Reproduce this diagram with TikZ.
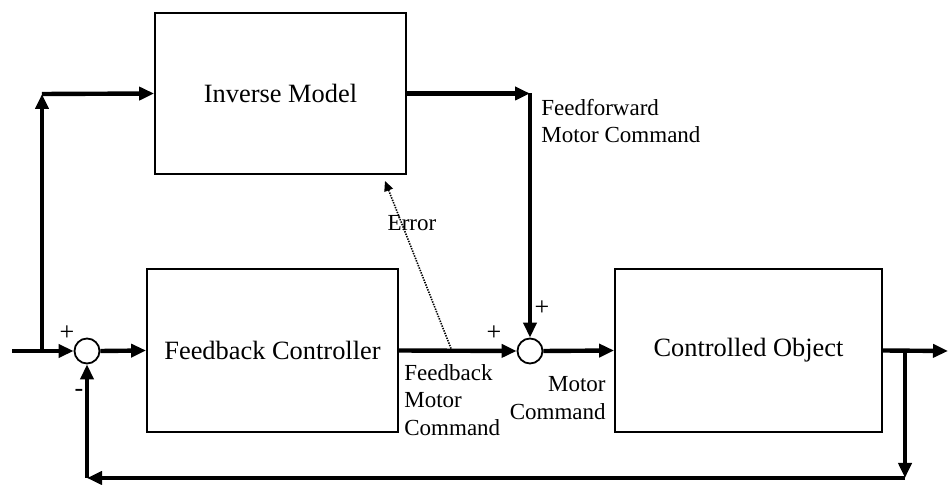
\documentclass[tikz,border=0pt]{standalone}
\usepackage{fontspec}
\setmainfont{Liberation Serif}
\usetikzlibrary{arrows.meta}

\begin{document}
\begin{tikzpicture}[x=0.5pt, y=-0.5pt,
    blk/.style={draw, line width=0.9pt, font=\fontsize{13.2}{16}\selectfont},
    sumc/.style={draw, circle, fill=white, line width=0.9pt, minimum size=12.5pt, inner sep=0pt},
    arr/.style={-{Triangle[length=7.5pt,width=6.5pt]}, line width=2.2pt},
    lbl/.style={font=\fontsize{11.5}{13.75}\selectfont, inner sep=0pt},
    sgn/.style={font=\fontsize{13}{14}\selectfont, inner sep=0pt}]
  \useasboundingbox (0,0) rectangle (948,485);
  % blocks
  \node[blk, minimum width=125.5pt, minimum height=80.5pt] (inv) at (280.5,93.5) {Inverse Model};
  \node[blk, minimum width=125.5pt, minimum height=81.5pt] (fbc) at (272.5,350.5) {Feedback Controller};
  \node[blk, minimum width=133.5pt, minimum height=81.5pt] (obj) at (748.5,350.5) {Controlled Object};
  \node[sumc] (s1) at (87,351) {};
  \node[sumc] (s2) at (530,351) {};
  % corners of the wiring
  \coordinate (in) at (12,351);
  \coordinate (br) at (42,351);
  \coordinate (brtop) at (42,94);
  \coordinate (ff) at (s2 |- inv.east);
  \coordinate (out) at (948,351);
  \coordinate (tap) at (905,351);
  \coordinate (fbr) at (905,478);
  \coordinate (fbl) at (s1 |- fbr);
  \coordinate (errs) at (452,351);
  \coordinate (erre) at (385,181);
  % forward path
  \draw[arr] (in) -- (s1.west);
  \draw[arr] (br) -- (brtop);
  \draw[arr] (brtop) -- (inv.west);
  \draw[arr] (s1.east) -- (fbc.west);
  \draw[arr] (fbc.east) -- (s2.west);
  \draw[arr] (inv.east) -- (ff);
  \draw[arr] (ff) -- (s2.north);
  \draw[arr] (s2.east) -- (obj.west);
  \draw[arr] (obj.east) -- (out);
  % feedback path
  \draw[arr] (tap) -- (fbr);
  \draw[arr] (fbr) -- (fbl);
  \draw[arr] (fbl) -- (s1.south);
  % error signal
  \draw[dash pattern=on 0.7pt off 0.6pt, line width=0.8pt, -{Triangle[length=5pt,width=4.5pt]}] (errs) -- (erre);
  % signs and labels
  \node[sgn] (p1) at (67,333) {+};
  \node[sgn] (m1) at (79,393) {-};
  \node[sgn] (p2) at (494,333) {+};
  \node[sgn] (p3) at (542,308) {+};
  \node[lbl] (errl) at (412,223) {Error};
  \node[lbl, align=left, anchor=west] (ffl) at (541,121) {Feedforward\\Motor Command};
  \node[lbl, align=left, anchor=west] (fbl2) at (404,400) {Feedback\\Motor\\Command};
  \node[lbl, align=right, anchor=east] (mcl) at (606,398) {Motor\\Command};
\end{tikzpicture}
\end{document}
